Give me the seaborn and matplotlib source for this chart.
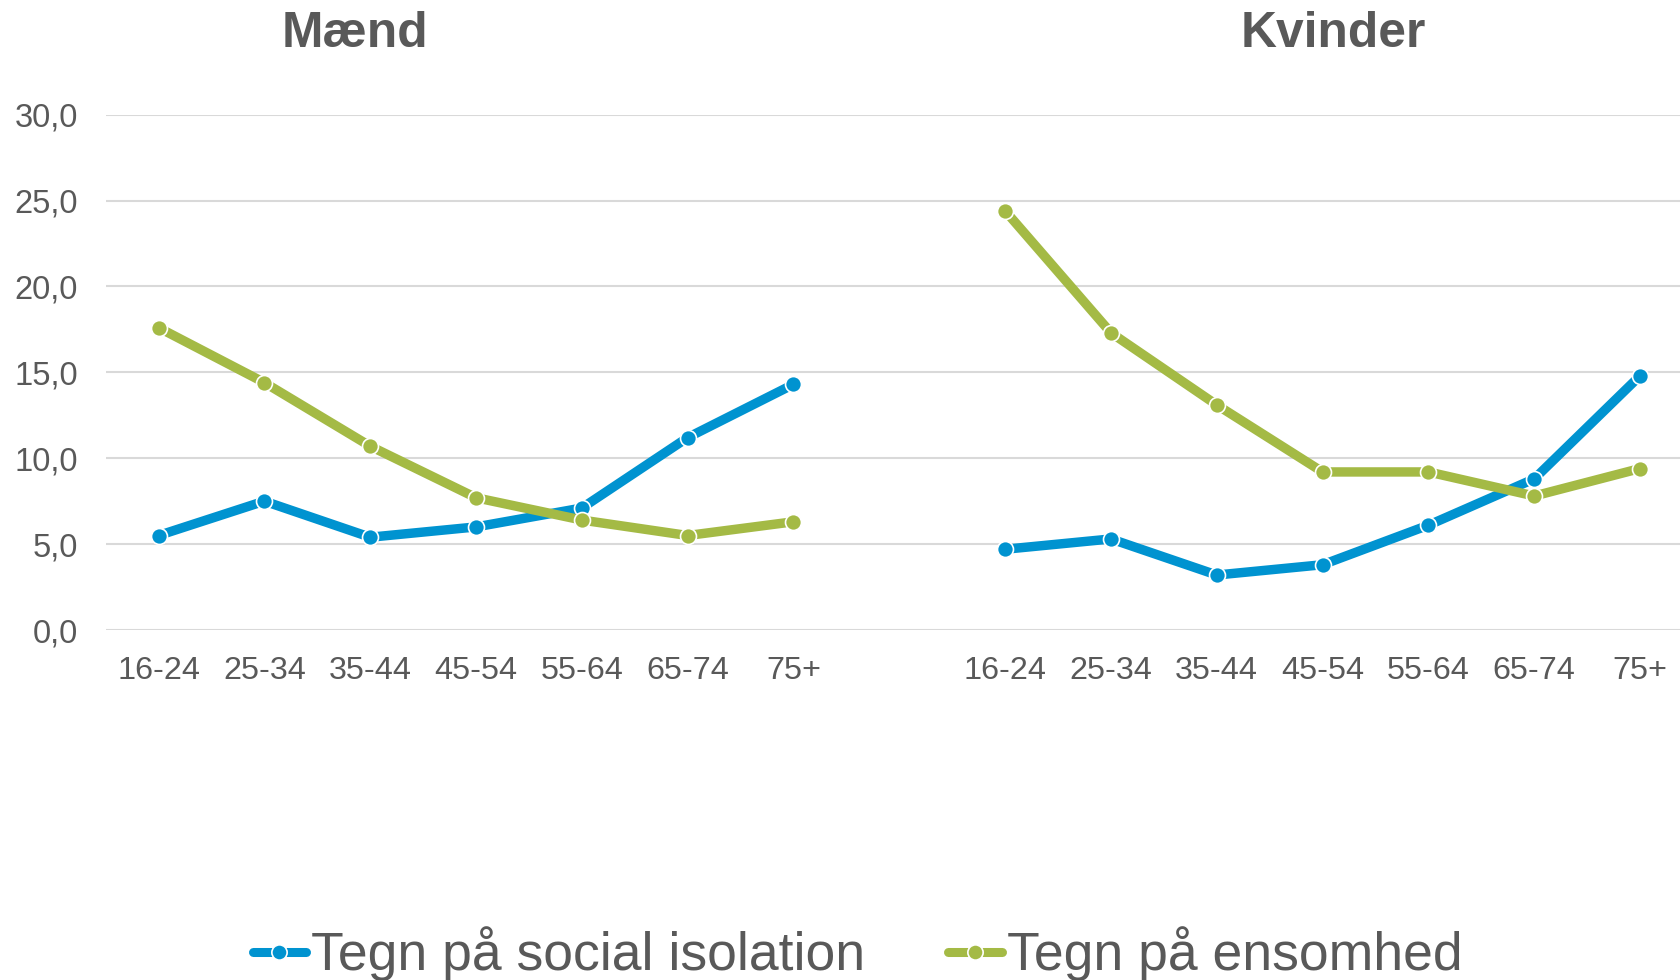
import matplotlib
matplotlib.use("Agg")
import matplotlib.pyplot as plt
from matplotlib.lines import Line2D
from matplotlib.ticker import FuncFormatter
import seaborn as sns
import pandas as pd

# Age groups per panel
age_groups = ["16-24", "25-34", "35-44", "45-54", "55-64", "65-74", "75+"]
genders = ["Mænd", "Kvinder"]
series_names = ["Tegn på social isolation", "Tegn på ensomhed"]

# Share (%) by gender and age group
maend_isolation = [5.5, 7.5, 5.4, 6.0, 7.1, 11.2, 14.3]
maend_ensomhed = [17.6, 14.4, 10.7, 7.7, 6.4, 5.5, 6.3]
kvinder_isolation = [4.7, 5.3, 3.2, 3.8, 6.1, 8.8, 14.8]
kvinder_ensomhed = [24.4, 17.3, 13.1, 9.2, 9.2, 7.8, 9.4]

y_ticks = [0, 5, 10, 15, 20, 25, 30]

BLUE = "#0093D0"
GREEN = "#A4BA45"
TEXT = "#595959"
GRID = "#D9D9D9"

# Both panels share one category axis with an empty slot between the groups
categories = age_groups + [""] + age_groups
rows = []
values = {
    ("Mænd", series_names[0]): maend_isolation,
    ("Mænd", series_names[1]): maend_ensomhed,
    ("Kvinder", series_names[0]): kvinder_isolation,
    ("Kvinder", series_names[1]): kvinder_ensomhed,
}
for (g, s), vals in values.items():
    offset = 0 if g == "Mænd" else len(age_groups) + 1
    for i, (a, v) in enumerate(zip(age_groups, vals)):
        rows.append({"køn": g, "serie": s, "alder": a, "pos": offset + i, "andel": v})
df = pd.DataFrame(rows)

sns.set_theme(style="white")
plt.rcParams["font.family"] = ["Liberation Sans", "DejaVu Sans"]

fig = plt.figure(figsize=(16.8, 9.8), dpi=100)
# plot area runs slightly past the right edge of the figure
left_px, right_px = 105.6, 1693.0
ax = fig.add_axes([left_px / 1680, 1 - 630 / 980, (right_px - left_px) / 1680, (630 - 114.6) / 980])

palette = {series_names[0]: BLUE, series_names[1]: GREEN}
sns.lineplot(
    data=df, x="pos", y="andel", hue="serie", units="køn", estimator=None,
    palette=palette, hue_order=series_names, linewidth=6.8,
    marker="o", markersize=11.5, markeredgecolor="white", markeredgewidth=1.2,
    legend=False, ax=ax, sort=True,
)

ax.set_xlim(-0.5, len(categories) - 0.5)
ax.set_ylim(0, 30)
ax.set_xticks(range(len(categories)))
ax.set_xticklabels(categories)
ax.set_yticks(y_ticks)
ax.yaxis.set_major_formatter(FuncFormatter(lambda v, p: f"{v:.1f}".replace(".", ",")))
ax.tick_params(axis="y", length=0, pad=20, labelsize=23.5, labelcolor=TEXT)
ax.tick_params(axis="x", length=0, pad=19, labelsize=23.3, labelcolor=TEXT)
ax.set_xlabel("")
ax.set_ylabel("")
ax.grid(axis="y", color=GRID, linewidth=1.5)
ax.grid(axis="x", visible=False)
ax.set_axisbelow(True)
for sp in ax.spines.values():
    sp.set_visible(False)

# Panel titles
fig.text(355 / 1680, 1 - 47 / 980, "Mænd", ha="center", va="baseline",
         fontsize=35.8, fontweight="bold", color=TEXT)
fig.text(1333 / 1680, 1 - 47 / 980, "Kvinder", ha="center", va="baseline",
         fontsize=35.8, fontweight="bold", color=TEXT)

handles = [
    Line2D([], [], color=BLUE, linewidth=6.5, marker="o", markersize=11,
           markeredgecolor="white", markeredgewidth=1.2, solid_capstyle="round"),
    Line2D([], [], color=GREEN, linewidth=6.5, marker="o", markersize=11,
           markeredgecolor="white", markeredgewidth=1.2, solid_capstyle="round"),
]
leg = fig.legend(handles, series_names, loc="center", bbox_to_anchor=(0.5105, 1 - 954 / 980),
                 ncol=2, frameon=False, fontsize=38.5, handlelength=1.0,
                 handletextpad=0.1, columnspacing=1.55, borderaxespad=0)
for t in leg.get_texts():
    t.set_color(TEXT)

fig.savefig("out.png", dpi=100, facecolor="white")
